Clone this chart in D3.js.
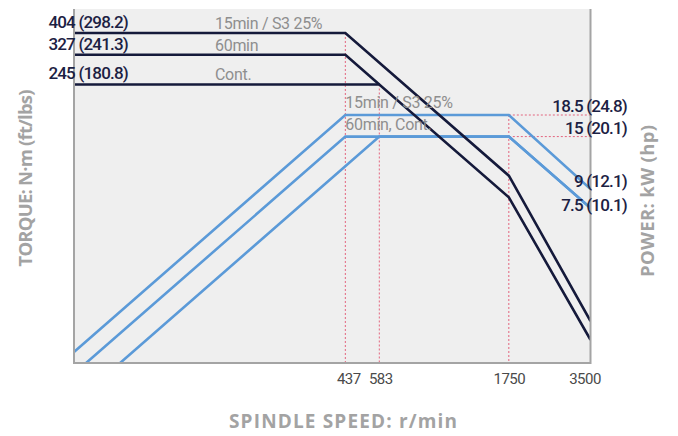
<!DOCTYPE html>
<html>
<head>
<meta charset="utf-8">
<script src="https://cdn.jsdelivr.net/npm/d3@7"></script>
<style>
  html, body { margin: 0; padding: 0; background: #ffffff; }
  svg { display: block; font-family: Roboto, "Open Sans", sans-serif; }
</style>
</head>
<body>
<svg id="chart" width="678" height="436"></svg>
<script>
// ---- data ----
const speedTicks = [437, 583, 1750, 3500];           // r/min
const speedDomain = [43.7, 3500];

// torque curves (N·m)
const torque15Speed = [43.7, 437, 1750, 3500];
const torque15Value = [404, 404, 101, 24.6];
const torque60Speed = [43.7, 437, 583];
const torque60Value = [327, 327, 245];
const torqueContSpeed = [43.7, 583, 1750, 3500];
const torqueContValue = [245, 245, 81.9, 20.5];

// power curves (kW)
const power15Speed = [43.7, 437, 1750, 3500];
const power15Value = [1.85, 18.5, 18.5, 9];
const power60Speed = [43.7, 437, 1750, 3500];
const power60Value = [1.5, 15, 15, 7.5];
const powerContSpeed = [43.7, 583, 1750, 3500];
const powerContValue = [1.124, 15, 15, 7.5];

const torqueLabels = ["404 (298.2)", "327 (241.3)", "245 (180.8)"];
const torqueLabelValues = [404, 327, 245];
const torqueSeriesNames = ["15min / S3 25%", "60min", "Cont."];
const powerLabels = ["18.5 (24.8)", "15 (20.1)", "9 (12.1)", "7.5 (10.1)"];
const powerLabelValues = [18.5, 15, 9, 7.5];
const powerSeriesNames = ["15min / S3 25%", "60min, Cont."];
const powerSeriesValues = [18.5, 15];

// ---- layout ----
const L = 74, R = 590.5, T = 9, B = 363;
const svg = d3.select("#chart");

const x = d3.scaleLog().domain(speedDomain).range([L, R]);
const yT = d3.scaleLog().domain([16.36, 510.1]).range([B, T]);
const yP = d3.scaleLog().domain([1.662, 51.82]).range([B, T]);

const dark = "#151a3b", blue = "#5b9ad8", red = "#e3647e";
const axisGray = "#a4a4a4", titleGray = "#a3a3a3", labelGray = "#8e8e8e";

svg.append("defs").append("clipPath").attr("id", "plotclip")
  .append("rect").attr("x", L).attr("y", T).attr("width", R - L).attr("height", B - T);

svg.append("rect").attr("x", L).attr("y", T).attr("width", R - L).attr("height", B - T)
  .attr("fill", "#efefef");

// red dotted guides
const guides = svg.append("g").attr("stroke", red).attr("stroke-width", 1)
  .attr("stroke-dasharray", "2,2").attr("fill", "none");
guides.append("line").attr("x1", x(437)).attr("x2", x(437)).attr("y1", yT(404)).attr("y2", B);
guides.append("line").attr("x1", x(583)).attr("x2", x(583)).attr("y1", yT(245)).attr("y2", B);
guides.append("line").attr("x1", x(1750)).attr("x2", x(1750)).attr("y1", yP(18.5)).attr("y2", B);
powerSeriesValues.forEach(v => {
  guides.append("line").attr("x1", x(1750)).attr("x2", R).attr("y1", yP(v)).attr("y2", yP(v));
});

const plot = svg.append("g").attr("clip-path", "url(#plotclip)");
function zip(a, b) { return a.map((s, i) => [s, b[i]]); }

const lineP = d3.line().x(d => x(d[0])).y(d => yP(d[1]));
const lineT = d3.line().x(d => x(d[0])).y(d => yT(d[1]));

[[power15Speed, power15Value], [power60Speed, power60Value], [powerContSpeed, powerContValue]]
  .forEach(([s, v]) => {
    plot.append("path").attr("d", lineP(zip(s, v))).attr("fill", "none")
      .attr("stroke", blue).attr("stroke-width", 2.6).attr("stroke-linejoin", "miter");
  });
[[torque15Speed, torque15Value], [torque60Speed, torque60Value], [torqueContSpeed, torqueContValue]]
  .forEach(([s, v]) => {
    plot.append("path").attr("d", lineT(zip(s, v))).attr("fill", "none")
      .attr("stroke", dark).attr("stroke-width", 2.6).attr("stroke-linejoin", "miter");
  });

// axes frame
const frame = svg.append("g").attr("stroke", axisGray).attr("stroke-width", 2).attr("fill", "none");
frame.append("path").attr("d", `M${L},${T}V${B}H${R}V${T}`);

// x axis tick labels
const tickNudge = [3, 1, 0, -6];
const xAxis = d3.axisBottom(x).tickValues(speedTicks).tickSize(0).tickPadding(10)
  .tickFormat(d3.format("d"));
const gx = svg.append("g").attr("transform", `translate(0,${B})`).call(xAxis);
gx.select(".domain").remove();
gx.selectAll("text").attr("font-size", 15).attr("fill", "#4a4a4a")
  .attr("font-family", "Roboto, sans-serif").attr("letter-spacing", "-0.5")
  .attr("dx", (d, i) => tickNudge[i]);

// torque value labels
torqueLabels.forEach((t, i) => {
  svg.append("text").attr("x", 128).attr("y", yT(torqueLabelValues[i]) - 5)
    .attr("text-anchor", "end").attr("font-size", 17).attr("font-weight", 500)
    .attr("letter-spacing", "-0.8").attr("fill", "#1c2143").text(t);
  svg.append("text").attr("x", 215).attr("y", yT(torqueLabelValues[i]) - 4)
    .attr("font-size", 16).attr("fill", labelGray).attr("letter-spacing", "-0.3")
    .text(torqueSeriesNames[i]);
});

// power series labels
powerSeriesNames.forEach((t, i) => {
  svg.append("text").attr("x", x(437)).attr("y", yP(powerSeriesValues[i]) - 7)
    .attr("font-size", 16).attr("fill", labelGray).attr("letter-spacing", "-0.3").text(t);
});

// power value labels
const powerOffsets = [-3, -3, -2.5, 3];
powerLabels.forEach((t, i) => {
  svg.append("text").attr("x", 627).attr("y", yP(powerLabelValues[i]) + powerOffsets[i])
    .attr("text-anchor", "end").attr("font-size", 17).attr("font-weight", 500)
    .attr("letter-spacing", "-0.8").attr("fill", "#1c2143").text(t);
});

// axis titles
const titleFont = "'Open Sans', Roboto, sans-serif";
svg.append("text").attr("transform", "translate(32,178) rotate(-90)")
  .attr("text-anchor", "middle").attr("font-size", 18.5).attr("font-weight", 700)
  .attr("font-family", titleFont)
  .attr("fill", titleGray).attr("textLength", 177).attr("lengthAdjust", "spacing")
  .text("TORQUE: N·m (ft/lbs)");
svg.append("text").attr("transform", "translate(654,201) rotate(-90)")
  .attr("text-anchor", "middle").attr("font-size", 18.5).attr("font-weight", 700)
  .attr("font-family", titleFont)
  .attr("fill", titleGray).attr("textLength", 152).attr("lengthAdjust", "spacing")
  .text("POWER: kW (hp)");
svg.append("text").attr("x", 343).attr("y", 428)
  .attr("text-anchor", "middle").attr("font-size", 19).attr("font-weight", 700)
  .attr("font-family", titleFont)
  .attr("fill", titleGray).attr("textLength", 228).attr("lengthAdjust", "spacing")
  .text("SPINDLE SPEED: r/min");
</script>
</body>
</html>
